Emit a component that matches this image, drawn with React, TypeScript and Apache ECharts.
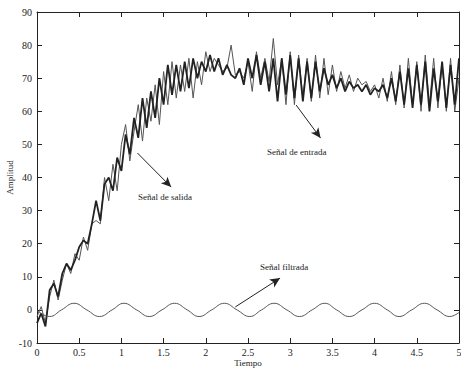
import React, { useEffect, useRef } from "react";
import * as echarts from "echarts";

const TIME_STEP = 0.05;

const entrada = [
  -2, 1, -4, 4, 9, 3, 9, 14, 11, 17, 15, 22, 18, 26, 27, 26, 40, 33, 44, 36,
  50, 56, 45, 54, 62, 51, 64, 57, 68, 56, 72, 62, 75, 64, 74, 66, 76, 64, 75, 68,
  78, 72, 76, 74, 72, 73, 80, 71, 72, 70, 75, 66, 78, 70, 76, 69, 82, 68, 76, 62,
  78, 62, 77, 64, 76, 63, 77, 64, 76, 65, 74, 66, 72, 67, 71, 66, 70, 68, 69, 66,
  68, 64, 70, 63, 72, 62, 74, 61, 76, 62, 75, 60, 77, 62, 76, 61, 74, 60, 76, 60, 70,
];

const salida = [
  -4, -1, -5, 6, 8, 4, 11, 14, 12, 15, 19, 21, 20, 26, 33, 27, 38, 40, 36, 46,
  42, 53, 47, 58, 52, 64, 55, 66, 58, 70, 62, 74, 65, 74, 66, 75, 67, 76, 70, 75,
  72, 77, 72, 76, 71, 74, 71, 70, 73, 68, 76, 70, 77, 68, 75, 66, 76, 63, 76, 65,
  77, 64, 76, 63, 75, 64, 75, 66, 73, 68, 71, 67, 70, 66, 69, 67, 68, 66, 68, 65,
  67, 66, 68, 64, 70, 63, 72, 62, 73, 61, 74, 62, 75, 60, 73, 63, 75, 61, 74, 62, 76,
];

const filtradaT = [
  0, 0.15, 0.29, 0.44, 0.59, 0.74, 0.89, 1.03, 1.18, 1.33, 1.48, 1.63, 1.78, 1.92,
  2.07, 2.22, 2.37, 2.52, 2.66, 2.81, 2.96, 3.11, 3.26, 3.41, 3.55, 3.7, 3.85, 4.0,
  4.15, 4.29, 4.44, 4.59, 4.74, 4.89, 5.0,
];
const filtradaV = [
  -0.2, -2, 0, 2, 0, -2, 0, 2, 0, -2, 0, 2, 0, -2,
  0, 2, 0, -2, 0, 2, 0, -2, 0, 2, 0, -2, 0, 2,
  0, -2, 0, 2, 0, -2, -0.8,
];

const xTicks = ["0", "0.5", "1", "1.5", "2", "2.5", "3", "3.5", "4", "4.5", "5"];

const FONT = "Liberation Serif";

export default function App() {
  const ref = useRef<HTMLDivElement>(null);
  useEffect(() => {
    if (!ref.current) return;
    const chart = echarts.init(ref.current, undefined, { renderer: "svg" });
    const toPairs = (arr: number[]) => arr.map((v, i) => [+(i * TIME_STEP).toFixed(2), v]);
    const arrowLine = (a: number[], b: number[]) => ({
      silent: true,
      symbol: ["none", "arrow"],
      symbolSize: [7, 10],
      label: { show: false },
      lineStyle: { color: "#222", width: 1, type: "solid" },
      data: [[{ coord: a }, { coord: b }]],
    });
    const axisCommon = {
      axisLine: { show: true, onZero: false, lineStyle: { color: "#222", width: 1 } },
      axisTick: { show: true, inside: true, length: 5, lineStyle: { color: "#222" } },
      splitLine: { show: false },
    };
    chart.setOption({
      animation: false,
      backgroundColor: "#fff",
      grid: { left: 37, right: 2, top: 12, bottom: 27, containLabel: false, outerBoundsMode: "none" },
      xAxis: [
        {
          type: "value",
          min: 0,
          max: 5,
          interval: 0.5,
          position: "bottom",
          name: "Tiempo",
          nameLocation: "middle",
          nameGap: 15,
          nameMoveOverlap: false,
          nameTextStyle: { fontFamily: FONT, fontSize: 9, color: "#222" },
          axisLabel: {
            fontFamily: FONT,
            fontSize: 10,
            color: "#222",
            margin: 4,
            formatter: (v: number) => xTicks[Math.round(v / 0.5)] ?? "",
          },
          ...axisCommon,
        },
        {
          type: "value",
          min: 0,
          max: 5,
          interval: 0.5,
          position: "top",
          axisLabel: { show: false },
          ...axisCommon,
        },
      ],
      yAxis: [
        {
          type: "value",
          min: -10,
          max: 90,
          interval: 10,
          position: "left",
          name: "Amplitud",
          nameLocation: "middle",
          nameGap: 23,
          nameMoveOverlap: false,
          nameRotate: 90,
          nameTextStyle: { fontFamily: FONT, fontSize: 9, color: "#222" },
          axisLabel: { fontFamily: FONT, fontSize: 10, color: "#222", margin: 5 },
          ...axisCommon,
        },
        {
          type: "value",
          min: -10,
          max: 90,
          interval: 10,
          position: "right",
          axisLabel: { show: false },
          ...axisCommon,
        },
      ],
      series: [
        {
          name: "Señal de entrada",
          type: "line",
          data: toPairs(entrada),
          showSymbol: false,
          lineStyle: { color: "#555", width: 1 },
          markLine: arrowLine([3.07, 61.9], [3.36, 51.9]),
        },
        {
          name: "Señal de salida",
          type: "line",
          data: toPairs(salida),
          showSymbol: false,
          lineStyle: { color: "#222", width: 1.8 },
          markLine: arrowLine([1.19, 47.4], [1.59, 37.1]),
        },
        {
          name: "Señal filtrada",
          type: "line",
          data: filtradaT.map((t, i) => [t, filtradaV[i]]),
          showSymbol: false,
          smooth: 0.45,
          lineStyle: { color: "#555", width: 1 },
          markLine: arrowLine([2.35, 0.9], [2.88, 9.6]),
        },
      ],
      graphic: [
        {
          type: "text",
          left: 138,
          top: 192,
          style: { text: "Señal de salida", fontFamily: FONT, fontSize: 9, fill: "#222" },
        },
        {
          type: "text",
          left: 267,
          top: 147,
          style: { text: "Señal de entrada", fontFamily: FONT, fontSize: 9, fill: "#222" },
        },
        {
          type: "text",
          left: 260,
          top: 262,
          style: { text: "Señal filtrada", fontFamily: FONT, fontSize: 9, fill: "#222" },
        },
      ],
    });
    return () => chart.dispose();
  }, []);
  return <div ref={ref} style={{ width: 461, height: 370, position: "absolute", left: 0, top: 0 }} />;
}
